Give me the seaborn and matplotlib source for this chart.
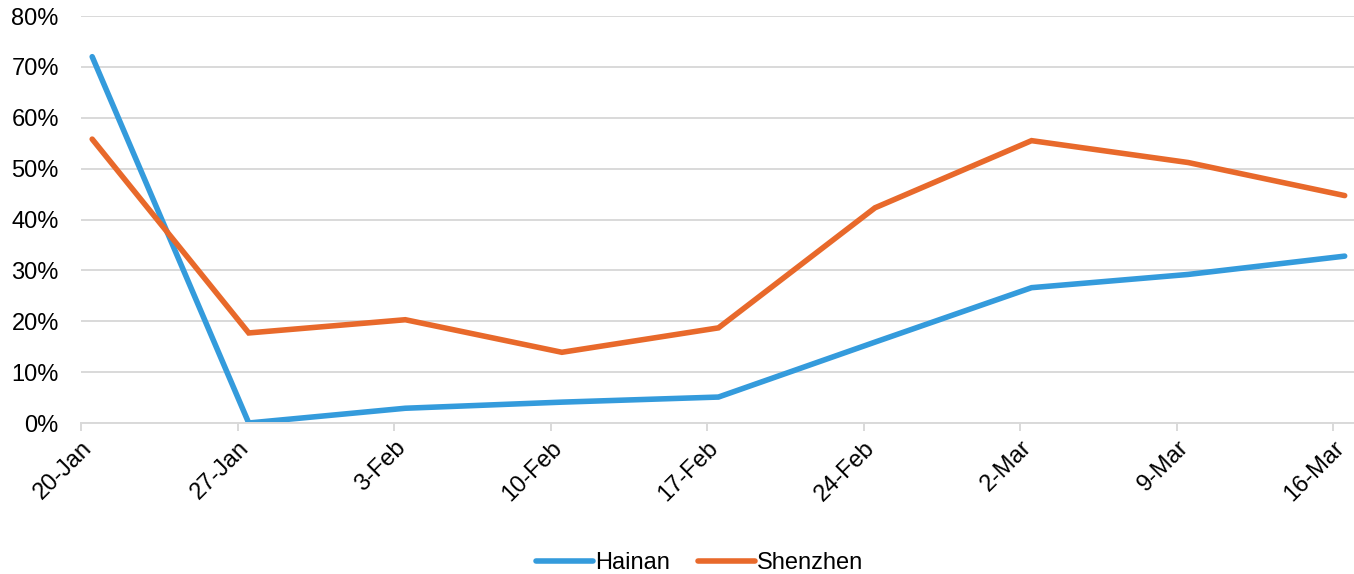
import matplotlib
matplotlib.use("Agg")
import matplotlib.pyplot as plt
from matplotlib.ticker import PercentFormatter
import seaborn as sns
import pandas as pd

week_labels = ['20-Jan', '27-Jan', '3-Feb', '10-Feb', '17-Feb', '24-Feb', '2-Mar', '9-Mar', '16-Mar']
week_dates = ['2020-01-20', '2020-01-27', '2020-02-03', '2020-02-10', '2020-02-17',
              '2020-02-24', '2020-03-02', '2020-03-09', '2020-03-16']
hainan = [72.0, 0.0, 2.9, 4.1, 5.1, 15.9, 26.6, 29.2, 32.8]
shenzhen = [55.8, 17.7, 20.3, 13.9, 18.7, 42.3, 55.5, 51.2, 44.7]

sns.set_theme(style="white")
plt.rcParams['font.family'] = ['Liberation Sans', 'DejaVu Sans']

ticks = pd.to_datetime(week_dates)
# points sit half a day after each tick, like the source chart's date axis
points = ticks + pd.Timedelta(hours=12)

df = pd.DataFrame({
    'date': list(points) * 2,
    'value': hainan + shenzhen,
    'region': ['Hainan'] * len(hainan) + ['Shenzhen'] * len(shenzhen),
})

fig = plt.figure(figsize=(13.54, 5.74), dpi=100)
ax = fig.add_axes([81 / 1354, 1 - 423 / 574, 1 - 81 / 1354, (423 - 16) / 574])

sns.lineplot(data=df, x='date', y='value', hue='region',
             palette={'Hainan': '#349BDC', 'Shenzhen': '#E8692B'},
             linewidth=4.0, ax=ax, legend=True)
for ln in ax.get_lines():
    ln.set_solid_capstyle('round')
    ln.set_solid_joinstyle('miter')

ax.set_ylim(0, 80)
ax.set_yticks(range(0, 81, 10))
ax.yaxis.set_major_formatter(PercentFormatter(decimals=0))
ax.set_xlim(ticks[0], ticks[-1] + pd.Timedelta(hours=22))
ax.set_xticks(ticks)
ax.set_xticklabels(week_labels, rotation=45, ha='right', rotation_mode='anchor')

ax.grid(axis='y', color='#D9D9D9', linewidth=1.4)
ax.set_axisbelow(True)
for s in ['left', 'right', 'top']:
    ax.spines[s].set_visible(False)
ax.spines['bottom'].set_color('#D9D9D9')
ax.spines['bottom'].set_linewidth(1.4)
ax.tick_params(axis='x', bottom=True, length=6, width=1.4, color='#D9D9D9',
               labelsize=17, pad=4, labelcolor='black')
ax.tick_params(axis='y', left=False, labelsize=17, pad=10, labelcolor='black')
ax.set_xlabel('')
ax.set_ylabel('')

leg = ax.legend(loc='center', bbox_to_anchor=(0.486, -0.345), ncol=2, frameon=False,
                fontsize=17, handlelength=2.4, columnspacing=1.2, handletextpad=0.1)
for h in leg.get_lines():
    h.set_linewidth(4.0)
for t in leg.get_texts():
    t.set_color('black')

fig.savefig('out.png', dpi=100)
